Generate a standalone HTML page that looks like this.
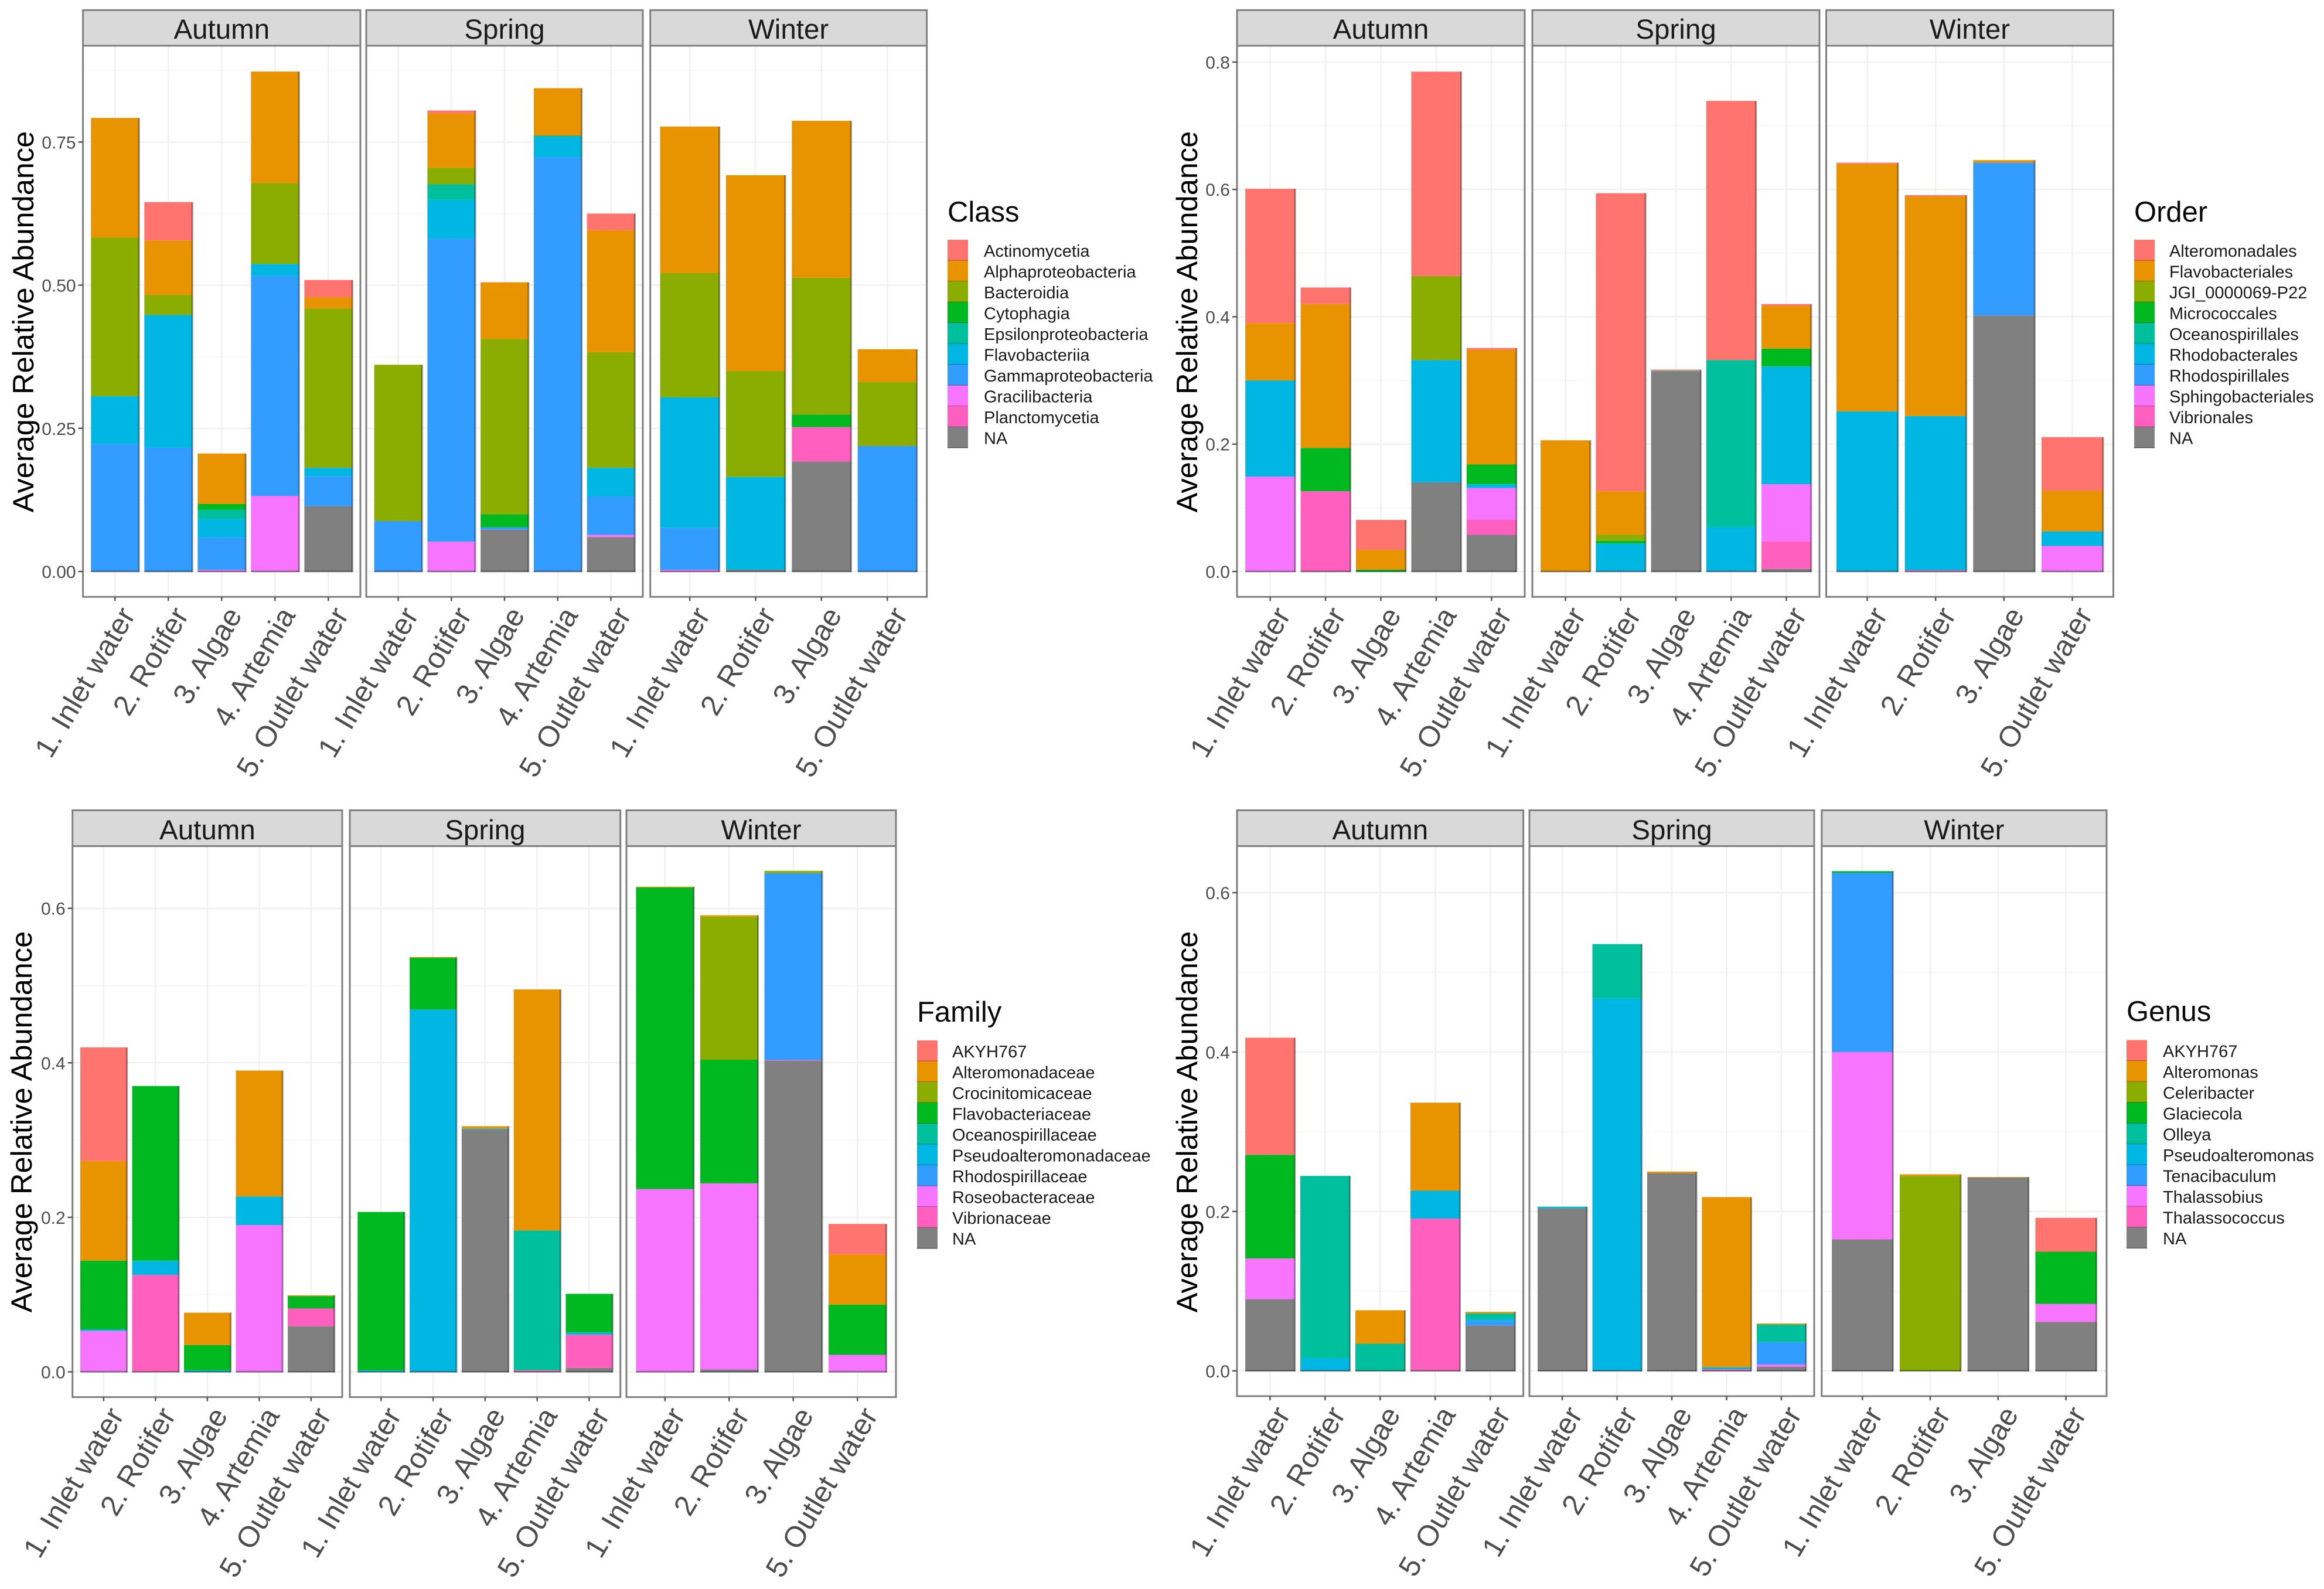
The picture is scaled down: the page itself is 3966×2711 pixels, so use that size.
<!DOCTYPE html>
<html lang="en">
<head>
<meta charset="utf-8">
<title>Average Relative Abundance by Taxonomic Level</title>
<style>
html,body{margin:0;padding:0;background:#fff;}
svg{display:block;font-family:"Liberation Sans",sans-serif;}
.ytitle{font-size:50.5px;fill:#000;text-anchor:middle;}
.ltitle{font-size:49px;fill:#0a0a0a;}
.strip{fill:#D9D9D9;stroke:#7f7f7f;stroke-width:3;}
.striptext{font-size:47.5px;fill:#1a1a1a;text-anchor:middle;}
</style>
</head>
<body>
<svg id="figure" xmlns="http://www.w3.org/2000/svg" width="3966" height="2711" viewBox="0 0 3966 2711">
<rect x="0" y="0" width="3966" height="2711" fill="#fff"/>

<g id="chart-class">
  <text class="ytitle" transform="translate(57,549) rotate(-90)">Average Relative Abundance</text>
  <text class="ltitle" x="1617" y="378">Class</text>
  <rect class="strip" x="141.6" y="17.3" width="473.4" height="60.7"/>
  <text class="striptext" x="378.3" y="66">Autumn</text>
  <rect class="strip" x="625" y="17.3" width="472" height="60.7"/>
  <text class="striptext" x="861" y="66">Spring</text>
  <rect class="strip" x="1109.7" y="17.3" width="471.9" height="60.7"/>
  <text class="striptext" x="1345.6" y="66">Winter</text>
</g>

<g id="chart-order">
  <text class="ytitle" transform="translate(2043,549) rotate(-90)">Average Relative Abundance</text>
  <text class="ltitle" x="3642" y="378">Order</text>
  <rect class="strip" x="2111" y="17.3" width="491" height="60.7"/>
  <text class="striptext" x="2356.5" y="66">Autumn</text>
  <rect class="strip" x="2615" y="17.3" width="490" height="60.7"/>
  <text class="striptext" x="2860" y="66">Spring</text>
  <rect class="strip" x="3116.5" y="17.3" width="490" height="60.7"/>
  <text class="striptext" x="3361.5" y="66">Winter</text>
</g>

<g id="chart-family">
  <text class="ytitle" transform="translate(54,1914) rotate(-90)">Average Relative Abundance</text>
  <text class="ltitle" x="1565" y="1743">Family</text>
  <rect class="strip" x="123.7" y="1382.4" width="460.3" height="61.2"/>
  <text class="striptext" x="353.9" y="1432">Autumn</text>
  <rect class="strip" x="597" y="1382.4" width="461.7" height="61.2"/>
  <text class="striptext" x="827.9" y="1432">Spring</text>
  <rect class="strip" x="1069" y="1382.4" width="460" height="61.2"/>
  <text class="striptext" x="1299" y="1432">Winter</text>
</g>

<g id="chart-genus">
  <text class="ytitle" transform="translate(2043,1914) rotate(-90)">Average Relative Abundance</text>
  <text class="ltitle" x="3629" y="1742">Genus</text>
  <rect class="strip" x="2111" y="1382.4" width="488.6" height="61.2"/>
  <text class="striptext" x="2355.3" y="1432">Autumn</text>
  <rect class="strip" x="2610" y="1382.4" width="486" height="61.2"/>
  <text class="striptext" x="2853" y="1432">Spring</text>
  <rect class="strip" x="3108.8" y="1382.4" width="486.2" height="61.2"/>
  <text class="striptext" x="3351.9" y="1432">Winter</text>
</g>
</svg>

<script>
// ---------- shared categories ----------
const samplesFive = ["1. Inlet water", "2. Rotifer", "3. Algae", "4. Artemia", "5. Outlet water"];
const samplesFour = ["1. Inlet water", "2. Rotifer", "3. Algae", "5. Outlet water"];

// ---------- class chart ----------
const classSeries = ["Actinomycetia","Alphaproteobacteria","Bacteroidia","Cytophagia","Epsilonproteobacteria","Flavobacteriia","Gammaproteobacteria","Gracilibacteria","Planctomycetia","NA"];
const classTicks = [0, 0.25, 0.5, 0.75];
const classTickLabels = ["0.00", "0.25", "0.50", "0.75"];
const classAutumn = [
  [0,.209,.277,0,0,.083,.223,0,0,0],
  [.067,.095,.035,0,0,.232,.216,0,0,0],
  [0,.088,0,.010,.016,.033,.056,.003,0,0],
  [0,.195,.141,0,0,.021,.384,.132,0,0],
  [.030,.020,.278,0,0,.015,.052,0,0,.114]
];
const classSpring = [
  [0,0,.273,0,0,0,.088,0,0,0],
  [.005,.095,.029,0,.027,.068,.529,.052,0,0],
  [0,.099,.306,.023,0,0,.004,0,0,.073],
  [0,.083,0,0,.002,.036,.723,0,0,0],
  [.029,.213,.202,0,0,.050,.067,.004,0,.060]
];
const classWinter = [
  [0,.256,.217,0,0,.228,.073,.003,0,0],
  [0,.342,.185,0,0,.162,0,0,0,.003],
  [0,.274,.239,.022,0,0,0,0,.060,.192],
  [0,.057,.112,0,0,0,.219,0,0,0]
];

// ---------- order chart ----------
const orderSeries = ["Alteromonadales","Flavobacteriales","JGI_0000069-P22","Micrococcales","Oceanospirillales","Rhodobacterales","Rhodospirillales","Sphingobacteriales","Vibrionales","NA"];
const orderTicks = [0, 0.2, 0.4, 0.6, 0.8];
const orderTickLabels = ["0.0", "0.2", "0.4", "0.6", "0.8"];
const orderAutumn = [
  [.211,.090,0,0,0,.151,0,.149,0,0],
  [.026,.226,0,.068,0,0,0,0,.126,0],
  [.047,.031,0,.003,0,0,0,0,0,0],
  [.321,0,.132,0,0,.192,0,0,0,.140],
  [.003,.180,0,.031,0,.006,0,.050,.0235,.0575]
];
const orderSpring = [
  [0,.206,0,0,0,0,0,0,0,0],
  [.468,.0685,.0095,.004,0,.044,0,0,0,0],
  [.002,0,0,0,.001,0,0,0,0,.314],
  [.407,0,0,0,.262,.070,0,0,0,0],
  [.003,.067,0,.028,0,.185,0,.090,.043,.004]
];
const orderWinter = [
  [.002,.3885,0,0,0,.2515,0,0,0,0],
  [.002,.345,0,0,0,.242,0,0,.002,0],
  [0,.004,0,0,0,0,.240,0,0,.402],
  [.084,.064,0,0,0,.023,0,.040,0,0]
];

// ---------- family chart ----------
const familySeries = ["AKYH767","Alteromonadaceae","Crocinitomicaceae","Flavobacteriaceae","Oceanospirillaceae","Pseudoalteromonadaceae","Rhodospirillaceae","Roseobacteraceae","Vibrionaceae","NA"];
const familyTicks = [0, 0.2, 0.4, 0.6];
const familyTickLabels = ["0.0", "0.2", "0.4", "0.6"];
const familyAutumn = [
  [.147,.129,0,.089,0,.002,0,.053,0,0],
  [0,0,0,.2255,.002,.017,0,0,.1255,0],
  [0,.042,0,.0326,0,.002,0,0,0,0],
  [0,.163,0,0,0,.037,0,.190,0,0],
  [0,.001,0,.016,0,0,0,0,.023,.059]
];
const familySpring = [
  [0,0,0,.205,0,.002,0,0,0,0],
  [0,.001,0,.067,0,.469,0,0,0,0],
  [0,.003,0,0,0,.001,0,0,0,.314],
  [0,.312,0,0,.181,0,0,0,.002,0],
  [0,0,0,.050,0,.003,0,0,.043,.005]
];
const familyWinter = [
  [0,.001,0,.3905,0,0,0,.2365,0,0],
  [0,.002,.185,.160,0,0,0,.241,0,.003],
  [0,0,.003,0,0,0,.242,0,.001,.4025],
  [.0395,.065,0,.065,0,0,0,.022,0,0]
];

// ---------- genus chart ----------
const genusSeries = ["AKYH767","Alteromonas","Celeribacter","Glaciecola","Olleya","Pseudoalteromonas","Tenacibaculum","Thalassobius","Thalassococcus","NA"];
const genusTicks = [0, 0.2, 0.4, 0.6];
const genusTickLabels = ["0.0", "0.2", "0.4", "0.6"];
const genusAutumn = [
  [.147,0,0,.130,0,0,0,.051,0,.090],
  [0,0,0,0,.2286,.016,0,0,0,0],
  [0,.042,0,0,.034,0,0,0,0,0],
  [0,.1105,0,0,0,.035,0,0,.191,0],
  [0,.002,0,0,.007,.002,.006,0,0,.057]
];
const genusSpring = [
  [0,0,0,0,0,.002,0,0,0,.204],
  [0,0,0,0,.0685,.467,0,0,0,0],
  [0,.002,0,0,0,0,0,0,0,.248],
  [0,.2135,0,0,0,.0025,0,0,.002,0],
  [0,.0015,0,0,.022,0,.028,.003,0,.005]
];
const genusWinter = [
  [0,0,0,.002,0,0,.225,.235,0,.165],
  [0,.002,.2446,0,0,0,0,0,0,0],
  [0,.0006,0,0,0,0,0,0,0,.2427],
  [.0425,0,0,.0655,0,0,0,.0225,0,.0615]
];

// ---------- styling and layout (not data) ----------
const palette = ["#FF746E","#E89300","#8BAC00","#00B81F","#00BF9D","#00B7E3","#339CFF","#F774FF","#FF5FBF","#808080"];
const SVGNS = "http://www.w3.org/2000/svg";

function mk(parent, tag, attrs, text) {
  const el = document.createElementNS(SVGNS, tag);
  for (const k in attrs) el.setAttribute(k, attrs[k]);
  if (text !== undefined) el.textContent = text;
  parent.appendChild(el);
  return el;
}

function drawChart(cfg) {
  const root = document.getElementById(cfg.id);
  const yScale = v => cfg.yZero - v * cfg.yUnit;

  cfg.facets.forEach((facet, fi) => {
    const left = cfg.panels[fi][0], right = cfg.panels[fi][1];
    const n = facet.samples.length;
    const unit = (right - left) / (n + 0.2);
    const xScale = i => left + (i + 0.6) * unit;
    const bw = unit * 0.9;

    const g = mk(root, "g", {});
    
    

    mk(g, "rect", {x:left, y:cfg.top, width:right-left, height:cfg.bottom-cfg.top, fill:"#fff"});

    // horizontal gridlines (major and minor)
    const step = cfg.ticks[1] - cfg.ticks[0];
    for (let k = -1; k < 40; k++) {
      const minor = yScale((k + 0.5) * step);
      if (minor > cfg.top && minor < cfg.bottom) {
        const m = mk(g, "line", {x1:left, x2:right, y1:minor, y2:minor, stroke:"#F6F6F6", "stroke-width":1.5});
        
        
      }
    }
    cfg.ticks.forEach(t => {
      const l = mk(g, "line", {x1:left, x2:right, y1:yScale(t), y2:yScale(t), stroke:"#F0F0F0", "stroke-width":2.5});
      
      
    });
    facet.samples.forEach((s, i) => {
      const l = mk(g, "line", {x1:xScale(i), x2:xScale(i), y1:cfg.top, y2:cfg.bottom, stroke:"#F0F0F0", "stroke-width":2.5});
      
      
    });

    // stacked bars: last series sits at the bottom
    facet.values.forEach((row, i) => {
      let acc = 0;
      const x = xScale(i) - bw / 2;
      for (let s = row.length - 1; s >= 0; s--) {
        if (!row[s]) continue;
        const y1 = yScale(acc + row[s]), y0 = yScale(acc);
        const r = mk(g, "rect", {x:x, y:y1, width:bw, height:y0 - y1, fill:palette[s]});
        
        
        acc += row[s];
      }
      const yt = yScale(acc), yb = yScale(0);
      const e1 = mk(g, "line", {x1:x + bw, x2:x + bw, y1:yt, y2:yb + 1, stroke:"#000", "stroke-opacity":.38, "stroke-width":3});
      
      
      const e2 = mk(g, "line", {x1:x, x2:x + bw, y1:yb, y2:yb, stroke:"#000", "stroke-opacity":.45, "stroke-width":2.5});
      
      
    });

    // panel border
    const border = mk(g, "rect", {x:left, y:cfg.top, width:right-left, height:cfg.bottom-cfg.top, fill:"none", stroke:"#7f7f7f", "stroke-width":3});
    
    

    // x axis
    facet.samples.forEach((s, i) => {
      const tx = xScale(i);
      const tick = mk(g, "line", {x1:tx, x2:tx, y1:cfg.bottom, y2:cfg.bottom + 7, stroke:"#555", "stroke-width":2.5});
      
      
      const ax = tx + 36, ay = cfg.bottom + 31;
      const lab = mk(g, "text", {x:ax, y:ay, "text-anchor":"end", "font-size":50, fill:"#4D4D4D",
        transform:"rotate(-59.5 " + ax + " " + ay + ")"}, s);
      
      
    });

    // y axis on the first panel only
    if (fi === 0) {
      cfg.ticks.forEach((t, i) => {
        const ty = yScale(t);
        const tick = mk(g, "line", {x1:left - 8, x2:left, y1:ty, y2:ty, stroke:"#555", "stroke-width":2.5});
        
        
        const lab = mk(g, "text", {x:left - 12, y:ty + 11, "text-anchor":"end", "font-size":30, fill:"#4D4D4D"}, cfg.tickLabels[i]);
        
        
      });
    }
  });

  // legend
  const lg = mk(root, "g", {});
  
  
  const keyStep = 35.5;
  cfg.series.forEach((name, i) => {
    const ky = cfg.legendY + i * keyStep;
    const key = mk(lg, "rect", {x:cfg.legendX, y:ky, width:35, height:keyStep, fill:palette[i]});
    
    
    const sep = mk(lg, "line", {x1:cfg.legendX, x2:cfg.legendX + 35, y1:ky + keyStep, y2:ky + keyStep, stroke:"#000", "stroke-opacity":.4, "stroke-width":1.8});
    
    
    const lab = mk(lg, "text", {x:cfg.legendTextX, y:ky + keyStep / 2 + 11, "font-size":29, fill:"#1a1a1a"}, name);
    
    
  });
}

drawChart({
  id:"chart-class", series:classSeries, ticks:classTicks, tickLabels:classTickLabels,
  panels:[[141.6,615],[625,1097],[1109.7,1581.6]], top:78, bottom:1018.3, yZero:975, yUnit:977,
  legendX:1617, legendTextX:1679, legendY:409,
  facets:[
    {name:"autumn", samples:samplesFive, values:classAutumn},
    {name:"spring", samples:samplesFive, values:classSpring},
    {name:"winter", samples:samplesFour, values:classWinter}
  ]
});
drawChart({
  id:"chart-order", series:orderSeries, ticks:orderTicks, tickLabels:orderTickLabels,
  panels:[[2111,2602],[2615,3105],[3116.5,3606.5]], top:78, bottom:1018.3, yZero:975, yUnit:1086.4,
  legendX:3642, legendTextX:3702, legendY:409,
  facets:[
    {name:"autumn", samples:samplesFive, values:orderAutumn},
    {name:"spring", samples:samplesFive, values:orderSpring},
    {name:"winter", samples:samplesFour, values:orderWinter}
  ]
});
drawChart({
  id:"chart-family", series:familySeries, ticks:familyTicks, tickLabels:familyTickLabels,
  panels:[[123.7,584],[597,1058.7],[1069,1529]], top:1443.6, bottom:2383.6, yZero:2340.5, yUnit:1318,
  legendX:1565, legendTextX:1625, legendY:1775,
  facets:[
    {name:"autumn", samples:samplesFive, values:familyAutumn},
    {name:"spring", samples:samplesFive, values:familySpring},
    {name:"winter", samples:samplesFour, values:familyWinter}
  ]
});
drawChart({
  id:"chart-genus", series:genusSeries, ticks:genusTicks, tickLabels:genusTickLabels,
  panels:[[2111,2599.6],[2610,3096],[3108.8,3595]], top:1443.6, bottom:2382, yZero:2338.8, yUnit:1359.7,
  legendX:3629, legendTextX:3691, legendY:1774.5,
  facets:[
    {name:"autumn", samples:samplesFive, values:genusAutumn},
    {name:"spring", samples:samplesFive, values:genusSpring},
    {name:"winter", samples:samplesFour, values:genusWinter}
  ]
});
</script>
</body>
</html>
